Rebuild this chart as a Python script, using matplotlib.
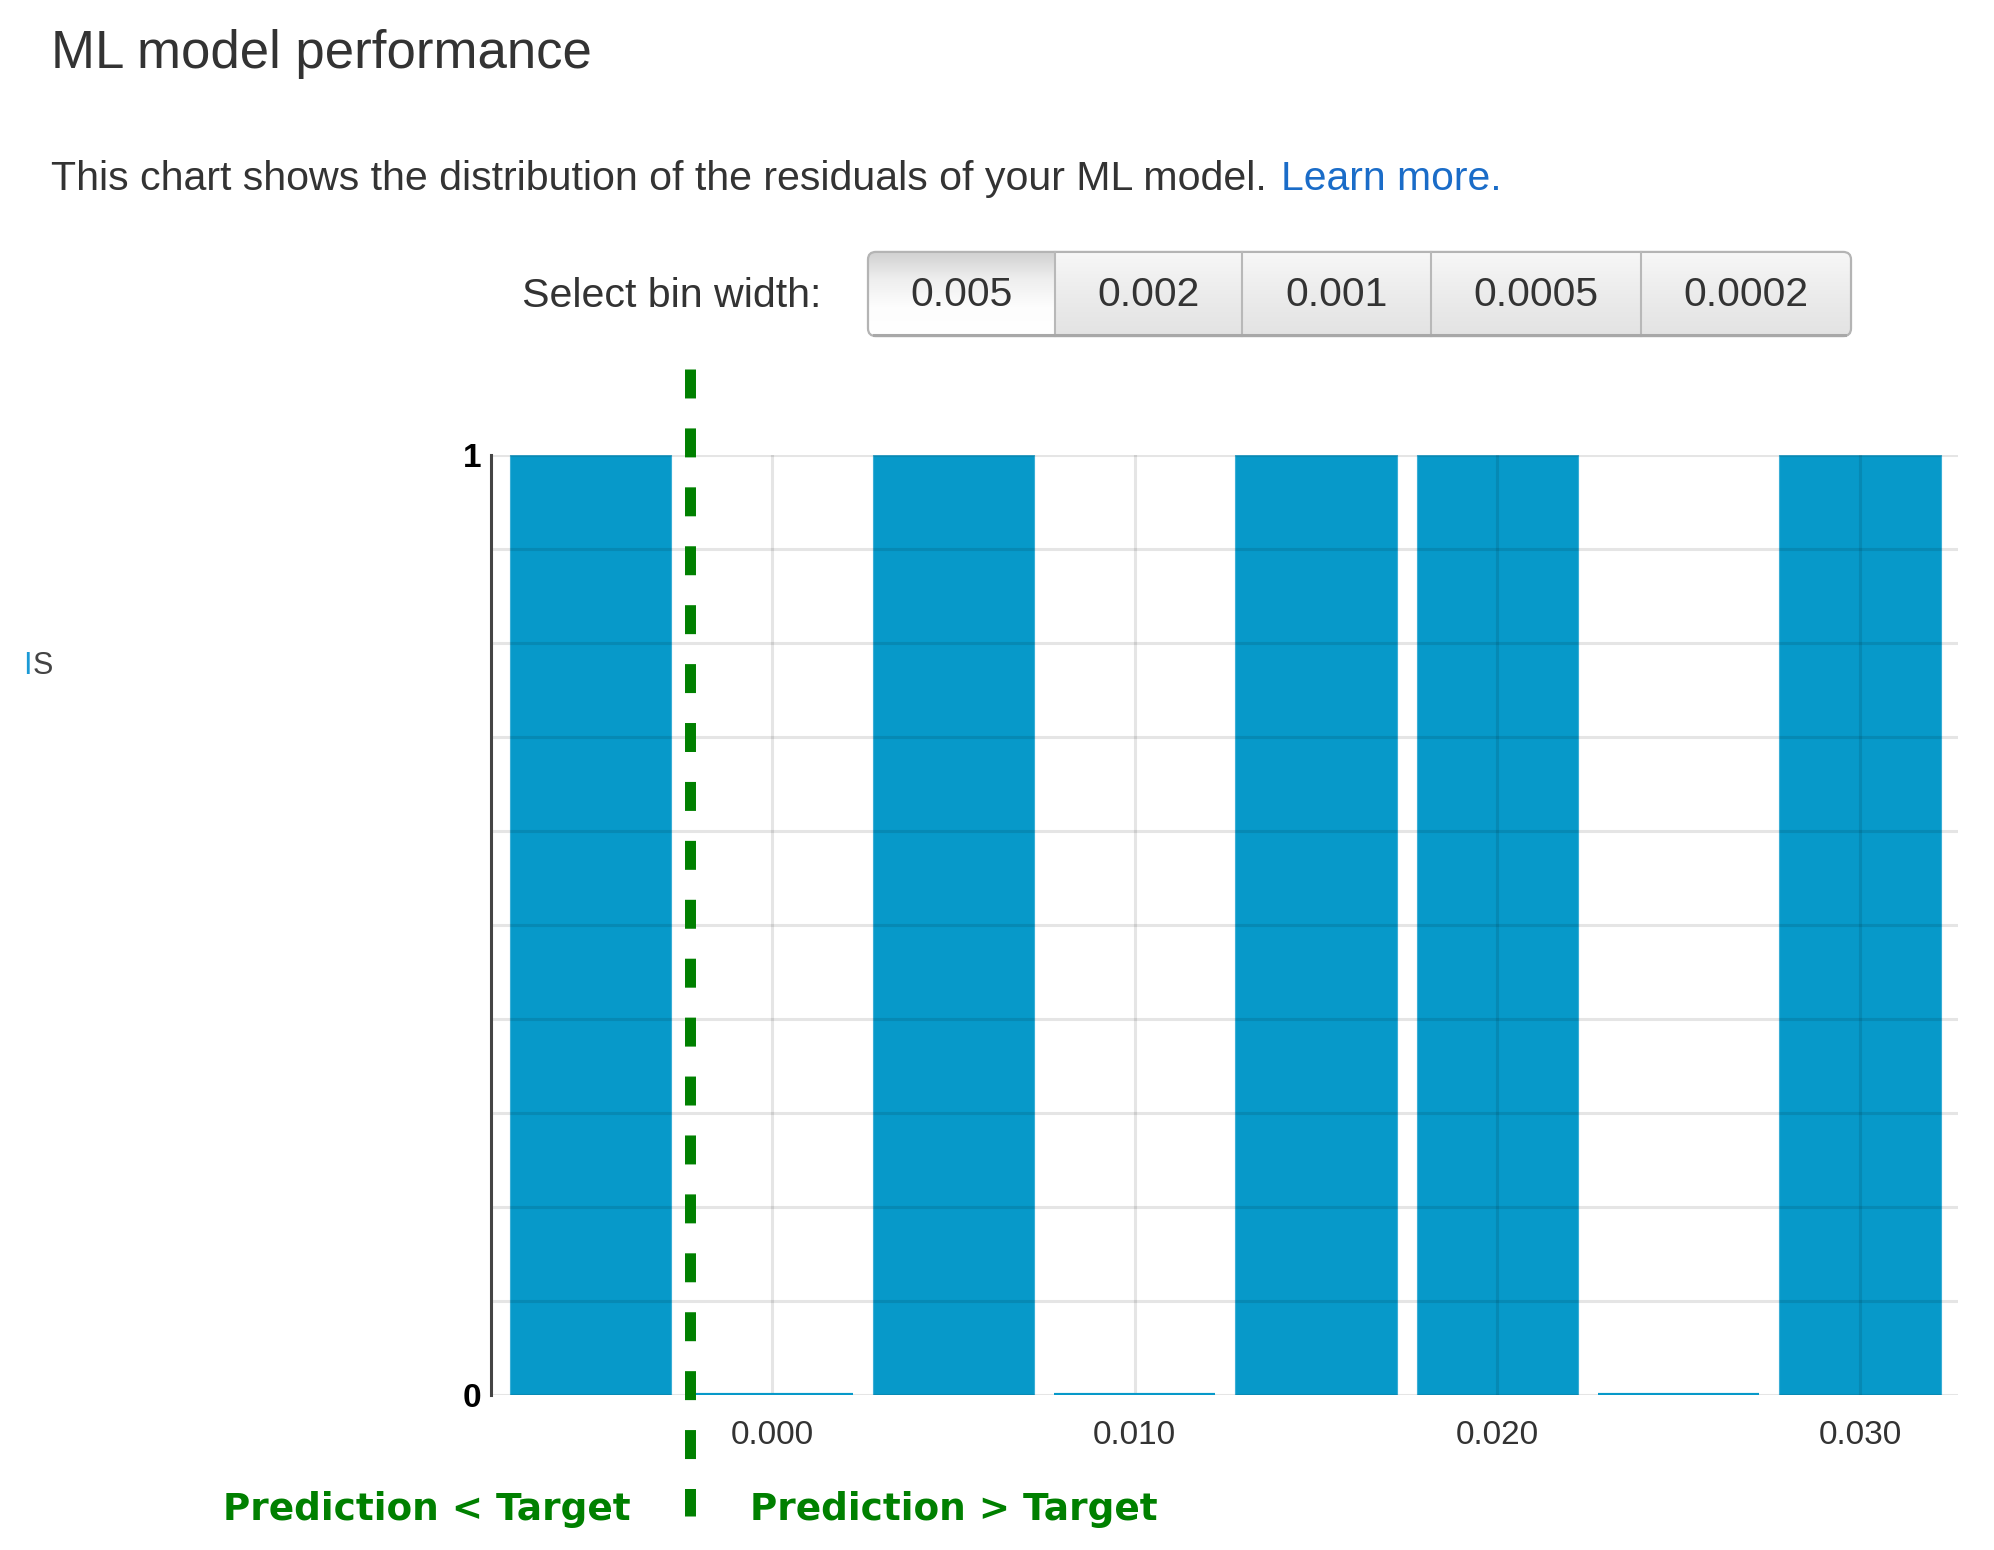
import matplotlib
matplotlib.use("Agg")
import matplotlib.pyplot as plt
import numpy as np
from matplotlib.patches import FancyBboxPatch
from matplotlib.colors import LinearSegmentedColormap

# ---------------- data ----------------
bin_centers = [-0.005, 0.000, 0.005, 0.010, 0.015, 0.020, 0.025, 0.030]
counts = [1, 0, 1, 0, 1, 1, 0, 1]
bin_width = 0.005
x_ticks = [0.000, 0.010, 0.020, 0.030]
x_tick_labels = ["0.000", "0.010", "0.020", "0.030"]
y_label_ticks = [0, 1]
y_tick_labels = ["0", "1"]
bin_options = ["0.005", "0.002", "0.001", "0.0005", "0.0002"]
selected_bin = "0.005"
split_value = -0.00225
title = "ML model performance"
subtitle = "This chart shows the distribution of the residuals of your ML model."
link_text = "Learn more."
left_label = "Prediction < Target"
right_label = "Prediction > Target"

# ---------------- figure ----------------
W, H, DPI = 1994, 1550, 100
fig = plt.figure(figsize=(W / DPI, H / DPI), dpi=DPI)
fig.patch.set_facecolor("white")


def fx(x):
    return x / W


def fy(y):
    return 1 - y / H


SANS = ["Liberation Sans", "DejaVu Sans"]
BOLD = ["DejaVu Sans"]

fig.text(fx(51), fy(68), title, fontsize=38, color="#333333", family=SANS, va="baseline")
fig.text(fx(51), fy(190), subtitle, fontsize=29.6, color="#333333", family=SANS, va="baseline")
fig.text(fx(1281), fy(190), link_text, fontsize=29.4, color="#1a6cc8", family=SANS, va="baseline")

# cropped axis label remnant
fig.text(fx(23), fy(674), "I", fontsize=22, color="#1b9ad6", family=SANS, va="baseline")
fig.text(fx(33), fy(674), "S", fontsize=22, color="#444444", family=SANS, va="baseline")

# ---------------- bin width selector ----------------
fig.text(fx(821), fy(307), "Select bin width:", fontsize=29.6, color="#333333",
         family=SANS, ha="right", va="baseline")

edges = [866, 1054, 1242, 1431, 1642, 1853]
btop, bbot = 250, 338
bax = fig.add_axes([fx(edges[0]), fy(bbot), (edges[-1] - edges[0]) / W, (bbot - btop) / H])
bax.axis("off")
clip = FancyBboxPatch((edges[0], btop), edges[-1] - edges[0], bbot - btop,
                      boxstyle="round,pad=0,rounding_size=8", transform=bax.transData,
                      facecolor="none", edgecolor="none")
bax.add_patch(clip)
sel_cmap = LinearSegmentedColormap.from_list("sel", ["#d0d0d0", "#efefef", "#fdfdfd", "#ffffff"])
oth_cmap = LinearSegmentedColormap.from_list("oth", ["#f7f7f7", "#ececec", "#e3e3e3"])
grad = np.linspace(0, 1, 64).reshape(-1, 1)
for i, lab in enumerate(bin_options):
    x0, x1 = edges[i], edges[i + 1]
    cm = sel_cmap if lab == selected_bin else oth_cmap
    im = bax.imshow(grad, cmap=cm, extent=[x0, x1, bbot, btop], aspect="auto",
                    interpolation="bilinear", origin="upper")
    im.set_clip_path(clip)
    bax.text((x0 + x1) / 2, 307, lab, fontsize=29.4, color="#333333", family=SANS,
             ha="center", va="baseline")
for xe in edges[1:-1]:
    bax.plot([xe, xe], [btop, bbot], color="#b8b8b8", lw=1.5)
border = FancyBboxPatch((edges[0], btop), edges[-1] - edges[0], bbot - btop,
                        boxstyle="round,pad=0,rounding_size=8", transform=bax.transData,
                        facecolor="none", edgecolor="#b4b4b4", lw=1.6)
bax.add_patch(border)
bax.plot([edges[0] + 6, edges[-1] - 6], [bbot - 1, bbot - 1], color="#a8a8a8", lw=2.2)
bax.set_xlim(edges[0] - 2, edges[-1] + 2)
bax.set_ylim(bbot + 2, btop - 2)

# ---------------- histogram ----------------
ax = fig.add_axes([fx(491), fy(1395), (1958 - 491) / W, (1395 - 455) / H])
bar_w = bin_width * 0.89
ax.bar(bin_centers, counts, width=bar_w, color="#0799c9", edgecolor="#3aaed6",
       linewidth=0.8, zorder=1.5)
for c, v in zip(bin_centers, counts):
    if v == 0:
        ax.hlines(v, c - bar_w / 2, c + bar_w / 2, color="#0799c9", lw=3.0, zorder=2.8)

ax.set_xlim(-0.00775, 0.0327)
ax.set_ylim(0, 1)
ax.set_xticks(x_ticks)
ax.set_xticklabels(x_tick_labels, fontsize=24, color="#333333", family=SANS)
yt = np.round(np.arange(0, 1.0001, 0.1), 2)
ax.set_yticks(yt)
ylabs = [y_tick_labels[y_label_ticks.index(v)] if v in y_label_ticks else "" for v in yt]
ax.set_yticklabels(ylabs, fontsize=24, color="black", family=SANS, fontweight="bold")
ax.tick_params(axis="both", length=0)
ax.tick_params(axis="x", pad=18)
ax.tick_params(axis="y", pad=7)
ax.set_axisbelow(False)
ax.grid(True, color="black", alpha=0.1, lw=2.2)
for s in ["top", "right", "bottom"]:
    ax.spines[s].set_visible(False)
ax.spines["left"].set_color("#444444")
ax.spines["left"].set_linewidth(2.2)
ax.spines["left"].set_zorder(4)

# split line
trans = ax.get_xaxis_transform()
ax.plot([split_value, split_value], [1.0915, -0.1287], transform=trans, clip_on=False,
        color="#008000", lw=7.9, dashes=(2.64, 2.73), dash_capstyle="butt", zorder=5)

ax.annotate(left_label, xy=(split_value, -0.1330), xycoords=trans, xytext=(-43, 0),
            textcoords="offset points", ha="right", va="baseline", fontsize=26.9,
            color="#008000", family=BOLD, fontweight="bold", annotation_clip=False)
ax.annotate(right_label, xy=(split_value, -0.1330), xycoords=trans, xytext=(43, 0),
            textcoords="offset points", ha="left", va="baseline", fontsize=26.9,
            color="#008000", family=BOLD, fontweight="bold", annotation_clip=False)

fig.savefig("out.png", dpi=DPI, facecolor="white")
